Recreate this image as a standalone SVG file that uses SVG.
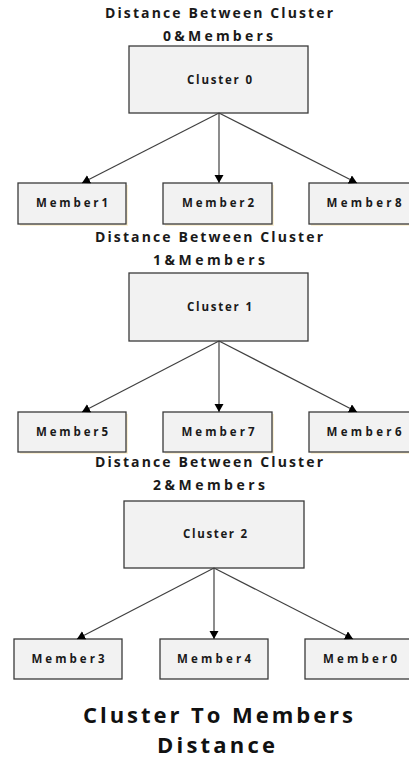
<svg xmlns="http://www.w3.org/2000/svg" width="409" height="759" viewBox="0 0 409 759">
<style>
.box{fill:#f2f2f2;stroke:#3a3a3a;stroke-width:1.3}
.sh{fill:#fbf1d6}
.t{font-family:"Open Sans","Liberation Sans",Arial,sans-serif;font-weight:bold;fill:#1a1a1a;text-anchor:middle}
.h{font-size:14px}
.n{font-size:11.5px}
.big{font-size:22px;fill:#111}
.c{stroke:#404040;stroke-width:1.2;fill:none;marker-end:url(#ah)}
</style>
<defs>
<marker id="ah" markerUnits="userSpaceOnUse" markerWidth="10" markerHeight="10" refX="8" refY="4.5" orient="auto">
<path d="M0,0 L8,4.5 L0,9 Z" fill="#000"/>
</marker>
</defs>
<g id="title0">
<text class="t h" x="219" y="18" textLength="228" lengthAdjust="spacing">Distance Between Cluster</text>
<text class="t h" x="218" y="41" textLength="110" lengthAdjust="spacing">0&amp;Members</text>
</g>
<g id="cluster0"><rect class="box" x="129" y="46" width="179" height="67"/><text class="t n" x="219.5" y="84" textLength="65" lengthAdjust="spacing">Cluster 0</text></g>
<g id="member1"><rect class="sh" x="20" y="185" width="108" height="41"/><rect class="box" x="18" y="183" width="108" height="41"/><text class="t n" x="72" y="207" textLength="72" lengthAdjust="spacing">Member1</text></g>
<g id="member2"><rect class="sh" x="165" y="185" width="109" height="41"/><rect class="box" x="163" y="183" width="109" height="41"/><text class="t n" x="218" y="207" textLength="72" lengthAdjust="spacing">Member2</text></g>
<g id="member8"><rect class="sh" x="311" y="185" width="102" height="41"/><rect class="box" x="309" y="183" width="102" height="41"/><text class="t n" x="364" y="207" textLength="75" lengthAdjust="spacing">Member8</text></g>

<g id="title1">
<text class="t h" x="209" y="242" textLength="228" lengthAdjust="spacing">Distance Between Cluster</text>
<text class="t h" x="209" y="265" textLength="112" lengthAdjust="spacing">1&amp;Members</text>
</g>
<g id="cluster1"><rect class="box" x="129" y="273" width="179" height="68"/><text class="t n" x="219.5" y="311" textLength="65" lengthAdjust="spacing">Cluster 1</text></g>
<g id="member5"><rect class="sh" x="20" y="414" width="108" height="40"/><rect class="box" x="18" y="412" width="108" height="40"/><text class="t n" x="72" y="436" textLength="72" lengthAdjust="spacing">Member5</text></g>
<g id="member7"><rect class="sh" x="165" y="414" width="109" height="40"/><rect class="box" x="163" y="412" width="109" height="40"/><text class="t n" x="218" y="436" textLength="73" lengthAdjust="spacing">Member7</text></g>
<g id="member6"><rect class="sh" x="311" y="414" width="102" height="40"/><rect class="box" x="309" y="412" width="102" height="40"/><text class="t n" x="364" y="436" textLength="75" lengthAdjust="spacing">Member6</text></g>

<g id="title2">
<text class="t h" x="209" y="467" textLength="228" lengthAdjust="spacing">Distance Between Cluster</text>
<text class="t h" x="209" y="490" textLength="112" lengthAdjust="spacing">2&amp;Members</text>
</g>
<g id="cluster2"><rect class="box" x="124" y="501" width="180" height="67"/><text class="t n" x="215" y="538" textLength="64" lengthAdjust="spacing">Cluster 2</text></g>
<g id="member3"><rect class="box" x="14" y="639" width="108" height="40"/><text class="t n" x="68" y="663" textLength="73" lengthAdjust="spacing">Member3</text></g>
<g id="member4"><rect class="box" x="160" y="639" width="108" height="40"/><text class="t n" x="214" y="663" textLength="74" lengthAdjust="spacing">Member4</text></g>
<g id="member0"><rect class="box" x="305" y="639" width="106" height="40"/><text class="t n" x="360" y="663" textLength="74" lengthAdjust="spacing">Member0</text></g>

<g id="caption">
<text class="t big" x="218" y="723" textLength="270" lengthAdjust="spacing">Cluster To Members</text>
<text class="t big" x="216" y="753" textLength="118" lengthAdjust="spacing">Distance</text>
</g>

<g id="connectors">
<line class="c" x1="219" y1="113" x2="82" y2="183"/>
<line class="c" x1="219" y1="113" x2="219" y2="183"/>
<line class="c" x1="219" y1="113" x2="357" y2="183"/>
<line class="c" x1="219" y1="341" x2="82" y2="412"/>
<line class="c" x1="219" y1="341" x2="219" y2="412"/>
<line class="c" x1="219" y1="341" x2="357" y2="412"/>
<line class="c" x1="214" y1="568" x2="77" y2="639"/>
<line class="c" x1="214" y1="568" x2="214" y2="639"/>
<line class="c" x1="214" y1="568" x2="353" y2="639"/>
</g>
</svg>
